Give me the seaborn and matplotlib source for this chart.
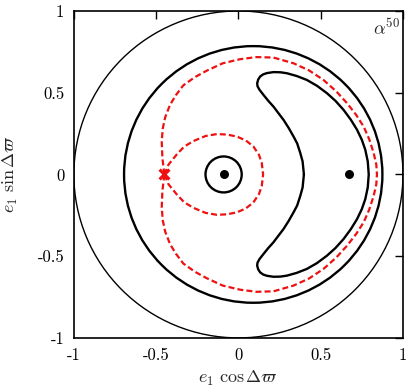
import numpy as np
import pandas as pd
import matplotlib
matplotlib.use("Agg")
import matplotlib.pyplot as plt
from matplotlib.patches import Circle
import seaborn as sns

# ---- data ----
tick_vals = [-1, -0.5, 0, 0.5, 1]
tick_labels = ["-1", "-0.5", "0", "0.5", "1"]

# circles: centre x, centre y, radius
circle_cx = [0.0, 0.09, -0.09]
circle_cy = [0.0, 0.0, 0.0]
circle_r = [1.0, 0.785, 0.11]

# crescent (upper half, mirrored for lower half)
cres_x = [0.398, 0.390, 0.376, 0.357, 0.335, 0.305, 0.274, 0.243, 0.213, 0.180,
          0.152, 0.128, 0.116, 0.114, 0.120, 0.132, 0.150, 0.173, 0.213, 0.255,
          0.295, 0.355, 0.416, 0.478, 0.538, 0.590, 0.639, 0.683, 0.721, 0.750,
          0.771, 0.786, 0.792]
cres_y = [0.0, 0.080, 0.131, 0.190, 0.232, 0.285, 0.334, 0.375, 0.415, 0.452,
          0.487, 0.518, 0.540, 0.558, 0.580, 0.599, 0.612, 0.620, 0.626, 0.625,
          0.619, 0.602, 0.578, 0.542, 0.497, 0.450, 0.395, 0.335, 0.273, 0.212,
          0.151, 0.080, 0.0]

# separatrix outer loop (upper half)
sep_out_x = [-0.450, -0.462, -0.466, -0.460, -0.445, -0.416, -0.380, -0.335, -0.265,
             -0.192, -0.095, 0.010, 0.110, 0.213, 0.335, 0.430, 0.517, 0.595, 0.660,
             0.715, 0.761, 0.795, 0.822, 0.838, 0.842]
sep_out_y = [0.0, 0.100, 0.200, 0.280, 0.350, 0.425, 0.485, 0.545, 0.595,
             0.635, 0.680, 0.705, 0.718, 0.715, 0.680, 0.636, 0.578, 0.508, 0.436,
             0.365, 0.293, 0.215, 0.131, 0.060, 0.0]

# separatrix inner loop (upper half)
sep_in_x = [-0.450, -0.425, -0.375, -0.330, -0.274, -0.200, -0.131, -0.070, -0.010,
            0.045, 0.091, 0.125, 0.142, 0.150]
sep_in_y = [0.0, 0.060, 0.122, 0.170, 0.204, 0.235, 0.247, 0.244, 0.232,
            0.208, 0.171, 0.120, 0.070, 0.0]

fixed_x = [-0.09, 0.67]
fixed_y = [0.0, 0.0]
saddle_x = [-0.45]
saddle_y = [0.0]


def closed(xs, ys):
    x = list(xs) + list(xs[::-1][1:])
    y = list(ys) + [-v for v in ys[::-1][1:]]
    return np.array(x), np.array(y)


sns.set_theme(style="white")
plt.rcParams["font.family"] = ["cmr10", "DejaVu Serif"]
plt.rcParams["mathtext.fontset"] = "cm"
plt.rcParams["axes.unicode_minus"] = False
plt.rcParams["axes.formatter.use_mathtext"] = True

fig = plt.figure(figsize=(4.15, 3.92), dpi=100)
ax = fig.add_axes([0.178, 0.138, 0.793, 0.834])

lws = [1.0, 1.7, 1.7]
for cx, cy, r, lw in zip(circle_cx, circle_cy, circle_r, lws):
    ax.add_patch(Circle((cx, cy), r, fill=False, edgecolor="black", lw=lw))

cx_, cy_ = closed(cres_x, cres_y)
ax.plot(cx_, cy_, color="black", lw=1.7, solid_joinstyle="round")
for xs, ys in [(sep_out_x, sep_out_y), (sep_in_x, sep_in_y)]:
    px, py = closed(xs, ys)
    ax.plot(px, py, color="#ee1111", lw=1.6, linestyle=(0, (2.7, 1.4)))

sns.scatterplot(x=fixed_x, y=fixed_y, s=42, color="black", ax=ax, zorder=5,
                edgecolor="black", linewidth=0)
ax.scatter(saddle_x, saddle_y, s=50, color="#ee1111", marker="x", linewidths=2.3, zorder=5)

ax.set_xlim(-1, 1)
ax.set_ylim(-1, 1)
ax.set_xticks(tick_vals)
ax.set_yticks(tick_vals)
ax.set_xticklabels(tick_labels)
ax.set_yticklabels(tick_labels)
ax.tick_params(direction="in", length=6, width=1.0, top=True, right=True,
               labelsize=12, colors="black", pad=7)
for s in ax.spines.values():
    s.set_visible(True)
    s.set_color("black")
    s.set_linewidth(1.2)
ax.set_xlabel(r"$e_1\ \cos\Delta\varpi$", fontsize=13, labelpad=4)
ax.set_ylabel(r"$e_1\ \sin\Delta\varpi$", fontsize=13)
ax.yaxis.set_label_coords(-0.165, 0.5)
ax.text(0.99, 0.98, r"$\alpha^{50}$", transform=ax.transAxes, ha="right", va="top",
        fontsize=13)

fig.savefig("out.png", dpi=100)
